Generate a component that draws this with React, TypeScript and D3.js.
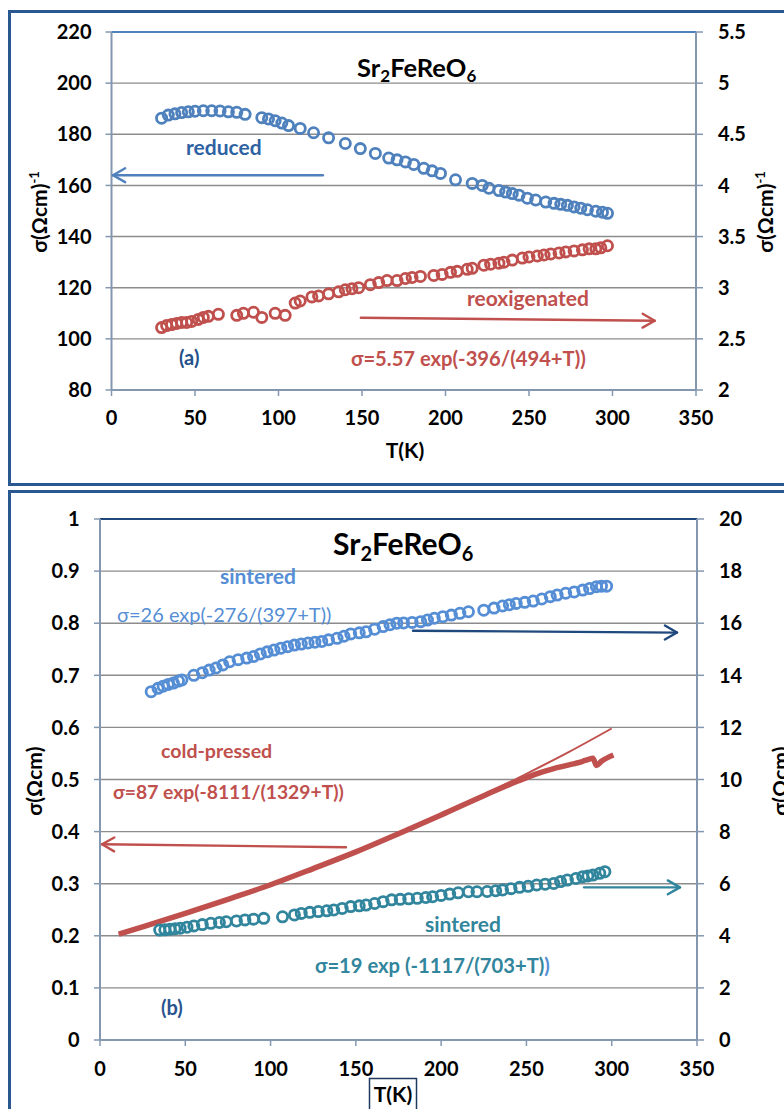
import React from "react";
import * as d3 from "d3";

// ---------- DATA ----------
const xTicks = [0, 50, 100, 150, 200, 250, 300, 350];

// Panel (a)
const topLeftTicks = [80, 100, 120, 140, 160, 180, 200, 220];
const topRightTicks = [2, 2.5, 3, 3.5, 4, 4.5, 5, 5.5];
// reduced: [T, sigma (left axis)]
const reducedData: [number, number][] = [
  [30, 186.3], [34, 187.5], [38, 188], [42, 188.5], [46, 188.8], [50, 189], [55, 189.2], [60, 189.2],
  [65, 189.1], [70, 188.8], [75, 188.6], [80, 187.8], [90, 186.5], [94, 186], [98, 185.3], [102, 184.4],
  [106, 183.4], [113, 182.3], [121, 180.6], [130, 178.6], [140, 176.4], [149, 174.4], [158, 172.5],
  [166, 170.7], [171, 170], [176, 169.2], [181, 168.2], [187, 166.7], [192, 165.7], [197, 164.7],
  [206, 162.2], [216, 160.8], [222, 160], [226, 158.9], [232, 158], [236, 157.4], [240, 156.8],
  [244, 156.2], [249, 155], [254, 154.3], [260, 153.5], [265, 153], [269, 152.6], [273, 152.2],
  [277, 151.6], [281, 151.1], [285, 150.5], [290, 149.9], [294, 149.5], [297, 149.1],
];
// reoxigenated: [T, sigma (right axis)]
const reoxData: [number, number][] = [
  [30, 2.61], [33, 2.63], [36, 2.64], [39, 2.65], [42, 2.66], [45, 2.66], [48, 2.67], [52, 2.69],
  [55, 2.71], [58, 2.72], [64, 2.74], [75, 2.73], [79, 2.75], [85, 2.76], [90, 2.71], [98, 2.75],
  [104, 2.73], [110, 2.85], [113, 2.87], [120, 2.91], [124, 2.92], [130, 2.94], [136, 2.96], [140, 2.98],
  [144, 2.99], [148, 3.0], [155, 3.03], [160, 3.05], [165, 3.07], [171, 3.07], [176, 3.09], [180, 3.1],
  [185, 3.11], [193, 3.12], [198, 3.13], [203, 3.15], [207, 3.16], [213, 3.18], [216, 3.19], [223, 3.22],
  [227, 3.23], [232, 3.24], [235, 3.25], [240, 3.27], [246, 3.29], [250, 3.3], [255, 3.31], [259, 3.32],
  [263, 3.33], [268, 3.34], [272, 3.35], [277, 3.36], [282, 3.37], [286, 3.38], [290, 3.38], [293, 3.39],
  [297, 3.41],
];

// Panel (b)
const botLeftTicks = [0, 0.1, 0.2, 0.3, 0.4, 0.5, 0.6, 0.7, 0.8, 0.9, 1];
const botRightTicks = [0, 2, 4, 6, 8, 10, 12, 14, 16, 18, 20];
// sintered (blue): [T, sigma (right axis)]
const sinteredBlue: [number, number][] = [
  [30, 13.37], [34, 13.5], [37, 13.58], [40, 13.65], [43, 13.7], [46, 13.78], [48, 13.82], [55, 14.0],
  [60, 14.1], [64, 14.2], [68, 14.28], [72, 14.4], [76, 14.52], [81, 14.6], [86, 14.66], [90, 14.72],
  [94, 14.82], [98, 14.9], [102, 14.97], [106, 15.04], [110, 15.1], [114, 15.16], [118, 15.2], [122, 15.24],
  [126, 15.27], [130, 15.3], [134, 15.36], [139, 15.42], [143, 15.5], [147, 15.59], [152, 15.63], [156, 15.67],
  [161, 15.77], [166, 15.87], [170, 15.94], [174, 16.0], [178, 16.01], [183, 16.03], [188, 16.06], [192, 16.12],
  [196, 16.19], [201, 16.25], [206, 16.31], [211, 16.38], [216, 16.44], [225, 16.5], [231, 16.58], [236, 16.66],
  [240, 16.71], [244, 16.76], [249, 16.8], [254, 16.85], [259, 16.93], [264, 17.02], [268, 17.08], [273, 17.15],
  [278, 17.2], [283, 17.27], [287, 17.33], [291, 17.4], [294, 17.42], [297, 17.42],
];
// sintered (teal): [T, sigma (right axis)]
const sinteredTeal: [number, number][] = [
  [35, 4.22], [38, 4.23], [41, 4.25], [44, 4.27], [47, 4.29], [51, 4.33], [55, 4.38], [60, 4.43],
  [65, 4.48], [70, 4.51], [74, 4.54], [80, 4.57], [85, 4.61], [90, 4.64], [96, 4.67], [107, 4.73],
  [114, 4.8], [118, 4.86], [123, 4.9], [128, 4.93], [133, 4.96], [137, 4.99], [142, 5.05], [147, 5.12],
  [152, 5.15], [156, 5.18], [161, 5.24], [166, 5.31], [171, 5.38], [176, 5.4], [181, 5.42], [186, 5.44],
  [191, 5.47], [195, 5.5], [200, 5.55], [205, 5.6], [210, 5.65], [216, 5.69], [221, 5.69], [227, 5.7],
  [232, 5.73], [236, 5.76], [241, 5.81], [246, 5.86], [251, 5.9], [256, 5.95], [261, 5.98], [266, 6.01],
  [270, 6.08], [274, 6.14], [279, 6.2], [283, 6.27], [286, 6.3], [289, 6.33], [293, 6.4], [296, 6.46],
];
// cold-pressed measured: [T, sigma (left axis)]
const coldPressed: [number, number][] = [
  [11, 0.203], [25, 0.217], [50, 0.243], [75, 0.27], [100, 0.298], [125, 0.329], [150, 0.361],
  [175, 0.396], [200, 0.432], [225, 0.469], [245, 0.497], [255, 0.51], [265, 0.52], [275, 0.528],
  [283, 0.535], [286, 0.538], [289, 0.541], [291, 0.527], [294, 0.535], [301, 0.547],
];
// cold-pressed fit: [T, sigma (left axis)]
const coldFit: [number, number][] = [
  [11, 0.203], [50, 0.243], [100, 0.298], [150, 0.361], [200, 0.432], [250, 0.511], [275, 0.553], [300, 0.598],
];

// ---------- STYLE ----------
const FONT = "Lato, 'Open Sans', 'Liberation Sans', sans-serif";
const RED = "#C0504D";
const BLUE = "#4F81BD";
const TEAL = "#31859C";
const LBLUE = "#558ED5";
const NAVY = "#1F497D";
const FRAME = "#2A5890";
const AXIS = "#8497B0";
const GRID = "#8C8C8C";

function Arrow({ x1, y1, x2, y2, color, w = 2.4 }: any) {
  const ang = Math.atan2(y2 - y1, x2 - x1);
  const L = 14, a = 0.52;
  const hx1 = x2 - L * Math.cos(ang - a), hy1 = y2 - L * Math.sin(ang - a);
  const hx2 = x2 - L * Math.cos(ang + a), hy2 = y2 - L * Math.sin(ang + a);
  return (
    <g stroke={color} strokeWidth={w} fill="none" strokeLinecap="round">
      <line x1={x1} y1={y1} x2={x2} y2={y2} />
      <polyline points={`${hx1},${hy1} ${x2},${y2} ${hx2},${hy2}`} strokeLinejoin="round" />
    </g>
  );
}

export default function App() {
  // scales panel (a)
  const xA = d3.scaleLinear().domain([0, 350]).range([111.5, 696]);
  const yAL = d3.scaleLinear().domain([80, 220]).range([390, 32]);
  const yAR = d3.scaleLinear().domain([2, 5.5]).range([390, 32]);
  // scales panel (b)
  const xB = d3.scaleLinear().domain([0, 350]).range([100, 697]);
  const yBL = d3.scaleLinear().domain([0, 1]).range([1040, 519]);
  const yBR = d3.scaleLinear().domain([0, 20]).range([1040, 519]);

  const lineBL = d3.line<[number, number]>().x((d) => xB(d[0])).y((d) => yBL(d[1])).curve(d3.curveMonotoneX);

  const tickStyle = { fontFamily: FONT, fontWeight: 700, fontSize: 20, fill: "#000" } as const;
  const labStyle = { fontFamily: FONT, fontWeight: 700, fontSize: 21, fill: "#000" } as const;
  const ann = (fill: string, size = 20.5, weight = 700) => ({ fontFamily: FONT, fontWeight: weight, fontSize: size, fill });
  const r = 5.1, sw = 2.8;

  return (
    <svg width={784} height={1109} style={{ position: "absolute", left: 0, top: 0, background: "#fff" }}>
      <rect x={0} y={0} width={784} height={1109} fill="#fff" />
      {/* frames */}
      <rect x={9.5} y={11.5} width={800} height={473} fill="none" stroke={FRAME} strokeWidth={3} />
      <rect x={9.5} y={491.5} width={800} height={640} fill="none" stroke={FRAME} strokeWidth={3} />

      {/* ================= PANEL (a) ================= */}
      <g>
        {topLeftTicks.slice(1, -1).map((t) => (
          <line key={t} x1={xA(0)} x2={xA(350)} y1={yAL(t)} y2={yAL(t)} stroke={GRID} strokeWidth={1.4} />
        ))}
        <line x1={xA(0)} x2={xA(350)} y1={yAL(220)} y2={yAL(220)} stroke={BLUE} strokeWidth={2.2} />
        <line x1={xA(0)} x2={xA(0)} y1={yAL(80)} y2={yAL(220)} stroke={AXIS} strokeWidth={2} />
        <line x1={xA(350)} x2={xA(350)} y1={yAL(80)} y2={yAL(220)} stroke={AXIS} strokeWidth={2} />
        <line x1={xA(0)} x2={xA(350)} y1={yAL(80)} y2={yAL(80)} stroke={AXIS} strokeWidth={2} />
        {topLeftTicks.map((t) => (
          <g key={t}>
            <line x1={xA(0) - 6} x2={xA(0)} y1={yAL(t)} y2={yAL(t)} stroke={AXIS} strokeWidth={1.5} />
            <text x={91.5} y={yAL(t)} dy="0.36em" textAnchor="end" {...tickStyle}>{t}</text>
          </g>
        ))}
        {topRightTicks.map((t) => (
          <g key={t}>
            <line x1={xA(350)} x2={xA(350) + 7} y1={yAR(t)} y2={yAR(t)} stroke={AXIS} strokeWidth={1.5} />
            <text x={xA(350) + 22} y={yAR(t)} dy="0.36em" textAnchor="start" {...tickStyle}>{t}</text>
          </g>
        ))}
        {xTicks.map((t) => (
          <g key={t}>
            <line x1={xA(t)} x2={xA(t)} y1={yAL(80)} y2={yAL(80) + 6} stroke={AXIS} strokeWidth={1.5} />
            <text x={xA(t)} y={425} textAnchor="middle" {...tickStyle}>{t}</text>
          </g>
        ))}
        <text x={405} y={458} textAnchor="middle" {...labStyle}>T(K)</text>
        <text transform="translate(47,212) rotate(-90)" textAnchor="middle" {...labStyle}>
          σ(Ωcm)<tspan dy={-8} fontSize={13}>-1</tspan>
        </text>
        <text transform="translate(773,212) rotate(-90)" textAnchor="middle" {...labStyle}>
          σ(Ωcm)<tspan dy={-8} fontSize={13}>-1</tspan>
        </text>
        {/* title */}
        <text x={357} y={77} fontFamily={FONT} fontWeight={700} fontSize={25.5} fill="#000">
          Sr<tspan dy={5} fontSize={17}>2</tspan><tspan dy={-5}>FeReO</tspan><tspan dy={5} fontSize={17}>6</tspan>
        </text>
        {/* data */}
        {reducedData.map((d, i) => (
          <circle key={"r" + i} cx={xA(d[0])} cy={yAL(d[1])} r={r} fill="none" stroke={BLUE} strokeWidth={sw} />
        ))}
        {reoxData.map((d, i) => (
          <circle key={"o" + i} cx={xA(d[0])} cy={yAR(d[1])} r={r} fill="none" stroke={RED} strokeWidth={sw} />
        ))}
        {/* annotations */}
        <text x={186} y={155} {...ann("#2E62A2", 21)}>reduced</text>
        <Arrow x1={xA(126.6)} y1={yAL(164)} x2={xA(0.9)} y2={yAL(164)} color={BLUE} />
        <text x={467} y={306} {...ann(RED, 21)}>reoxigenated</text>
        <Arrow x1={xA(149.3)} y1={yAR(2.707)} x2={xA(325.3)} y2={yAR(2.677)} color={RED} />
        <text x={351} y={366} {...ann(RED, 20.2)}>σ=5.57 exp(-396/(494+T))</text>
        <text x={179} y={365} {...ann("#24508A", 20)}>(a)</text>
      </g>

      {/* ================= PANEL (b) ================= */}
      <g>
        {botLeftTicks.slice(1, -1).map((t) => (
          <line key={t} x1={xB(0)} x2={xB(350)} y1={yBL(t)} y2={yBL(t)} stroke={GRID} strokeWidth={1.4} />
        ))}
        <line x1={xB(0)} x2={xB(350)} y1={yBL(1)} y2={yBL(1)} stroke={NAVY} strokeWidth={2.2} />
        <line x1={xB(0)} x2={xB(0)} y1={yBL(0)} y2={yBL(1)} stroke={AXIS} strokeWidth={2} />
        <line x1={xB(350)} x2={xB(350)} y1={yBL(0)} y2={yBL(1)} stroke={AXIS} strokeWidth={2} />
        <line x1={xB(0)} x2={xB(350)} y1={yBL(0)} y2={yBL(0)} stroke={AXIS} strokeWidth={2} />
        {botLeftTicks.map((t) => (
          <g key={t}>
            <line x1={xB(0) - 6} x2={xB(0)} y1={yBL(t)} y2={yBL(t)} stroke={AXIS} strokeWidth={1.5} />
            <text x={79.5} y={yBL(t)} dy="0.36em" textAnchor="end" {...tickStyle}>{t}</text>
          </g>
        ))}
        {botRightTicks.map((t) => (
          <g key={t}>
            <line x1={xB(350)} x2={xB(350) + 7} y1={yBR(t)} y2={yBR(t)} stroke={AXIS} strokeWidth={1.5} />
            <text x={xB(350) + 22} y={yBR(t)} dy="0.36em" textAnchor="start" {...tickStyle}>{t}</text>
          </g>
        ))}
        {xTicks.map((t) => (
          <g key={t}>
            <line x1={xB(t)} x2={xB(t)} y1={yBL(0)} y2={yBL(0) + 6} stroke={AXIS} strokeWidth={1.5} />
            <text x={xB(t)} y={1076} textAnchor="middle" {...tickStyle}>{t}</text>
          </g>
        ))}
        <rect x={369.5} y={1078.5} width={47} height={40} fill="#fff" stroke="#1F3A5F" strokeWidth={1.5} />
        <text x={393} y={1102} textAnchor="middle" {...labStyle}>T(K)</text>
        <text transform="translate(42,781) rotate(-90)" textAnchor="middle" {...labStyle}>σ(Ωcm)</text>
        <text transform="translate(788,781) rotate(-90)" textAnchor="middle" {...labStyle}>σ(Ωcm)</text>
        {/* title */}
        <text x={333} y={555} fontFamily={FONT} fontWeight={700} fontSize={30} fill="#000">
          Sr<tspan dy={6} fontSize={20}>2</tspan><tspan dy={-6}>FeReO</tspan><tspan dy={6} fontSize={20}>6</tspan>
        </text>
        {/* data */}
        <path d={lineBL(coldFit) || ""} fill="none" stroke={RED} strokeWidth={2} />
        <path d={lineBL(coldPressed) || ""} fill="none" stroke={RED} strokeWidth={5.5} strokeLinejoin="round" />
        {sinteredBlue.map((d, i) => (
          <circle key={"b" + i} cx={xB(d[0])} cy={yBR(d[1])} r={r} fill="none" stroke={LBLUE} strokeWidth={sw} />
        ))}
        {sinteredTeal.map((d, i) => (
          <circle key={"t" + i} cx={xB(d[0])} cy={yBR(d[1])} r={r} fill="none" stroke={TEAL} strokeWidth={sw} />
        ))}
        {/* annotations */}
        <text x={220} y={584} {...ann(LBLUE, 21)}>sintered</text>
        <text x={117} y={622} {...ann(LBLUE, 20, 400)}>σ=26 exp(-276/(397+T))</text>
        <Arrow x1={xB(183.5)} y1={yBR(15.71)} x2={xB(338.3)} y2={yBR(15.64)} color={NAVY} />
        <text x={161} y={758} {...ann(RED, 19.6)}>cold-pressed</text>
        <text x={113} y={799} {...ann(RED, 19.3)}>σ=87 exp(-8111/(1329+T))</text>
        <Arrow x1={xB(144.2)} y1={yBL(0.37)} x2={xB(1.2)} y2={yBL(0.3757)} color={RED} />
        <Arrow x1={xB(283.8)} y1={yBR(5.86)} x2={xB(340)} y2={yBR(5.86)} color={TEAL} />
        <text x={425} y={932} {...ann(TEAL, 21)}>sintered</text>
        <text x={315} y={973} {...ann(TEAL, 20.2)}>
          σ=19 exp (-1117/(703+T)<tspan fill={LBLUE}>)</tspan>
        </text>
        <text x={161} y={1015} {...ann("#2A5490", 20)}>(b)</text>
      </g>
    </svg>
  );
}
